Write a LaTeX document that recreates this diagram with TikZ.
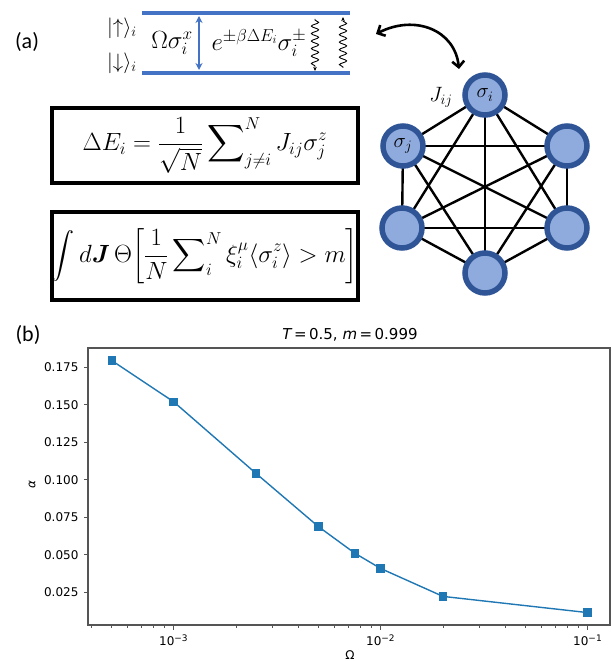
\documentclass[tikz,border=0pt]{standalone}
\usepackage{amsmath,amssymb}
\usepackage{fontspec}
\newfontfamily\calib{Carlito}
\newfontfamily\djv{DejaVu Sans}
\usetikzlibrary{arrows.meta,decorations.pathmorphing,backgrounds}
\definecolor{lvl}{HTML}{4472C4}
\definecolor{nodeb}{HTML}{2F5597}
\definecolor{nodef}{HTML}{8FAADC}
\definecolor{mpl}{HTML}{1F77B4}
\definecolor{spine}{HTML}{555555}
\tikzset{
  spin/.style={circle, minimum size=40pt, inner sep=0pt, line width=5.5pt, draw=nodeb, fill=nodef},
  edge/.style={line width=2.4pt, black},
  level/.style={line width=4pt, lvl},
  eqbox/.style={draw=black, line width=3.5pt, minimum width=306pt, inner sep=0pt},
  panel/.style={font=\calib\fontsize{22}{24}\selectfont},
  ticklab/.style={font=\djv\fontsize{12}{14}\selectfont},
  mk/.style={rectangle, fill=mpl, minimum size=8.6pt, inner sep=0pt},
  wavy/.style={line width=0.9pt, decorate, decoration={snake, amplitude=3.6pt, segment length=7.5pt, pre length=1pt, post length=4pt}},
}
\begin{document}
\begin{tikzpicture}[x=1pt,y=-1pt]
\useasboundingbox (0,0) rectangle (611,661);

% ---------- panel (a) ----------
\node[panel] (la) at (27,42) {(a)};

\coordinate (up1) at (142,13);
\coordinate (up2) at (350,13);
\coordinate (dn1) at (142,73);
\coordinate (dn2) at (350,73);
\draw[level] (up1) -- (up2);
\draw[level] (dn1) -- (dn2);

\node (kup) at (122,28) {\fontsize{21}{23}\selectfont $|{\uparrow}\rangle_i$};
\node (kdn) at (122,63) {\fontsize{21}{23}\selectfont $|{\downarrow}\rangle_i$};
\node (omx) at (172,43) {\fontsize{25}{27}\selectfont $\Omega\sigma_i^x$};
\node (exx) at (259,43) {\fontsize{25}{27}\selectfont $e^{\pm\beta\Delta E_i}\sigma_i^{\pm}$};

\coordinate (da1) at (199,16);
\coordinate (da2) at (199,70);
\draw[lvl, line width=2pt, {Stealth[length=7pt,width=7pt]}-{Stealth[length=7pt,width=7pt]}] (da1) -- (da2);

\coordinate (w1a) at (315,19);
\coordinate (w1b) at (315,71);
\coordinate (w2a) at (343,68);
\coordinate (w2b) at (343,17);
\draw[wavy, -{Stealth[length=4pt,width=3.5pt]}] (w1a) -- (w1b);
\draw[wavy, -{Stealth[length=4pt,width=3.5pt]}] (w2a) -- (w2b);

% ---------- spin graph ----------
\node[spin] (n1) at (485,95) {\fontsize{21}{23}\selectfont $\sigma_i$};
\node[spin] (n2) at (403,146) {\fontsize{21}{23}\selectfont $\sigma_j$};
\node[spin] (n3) at (567,146) {};
\node[spin] (n4) at (402,228) {};
\node[spin] (n5) at (567,228) {};
\node[spin] (n6) at (485,273) {};
\begin{pgfonlayer}{background}
\foreach \a/\b in {n1/n2,n1/n3,n1/n4,n1/n5,n1/n6,n2/n3,n2/n4,n2/n5,n2/n6,n3/n4,n3/n5,n3/n6,n4/n5,n4/n6,n5/n6}
  \draw[edge] (\a.center) -- (\b.center);
\end{pgfonlayer}
\node (jij) at (441,97) {\fontsize{21}{23}\selectfont $J_{ij}$};

\coordinate (ca) at (376,34);
\coordinate (cb) at (459,69);
\draw[line width=2.6pt, {Straight Barb[length=6pt,width=12pt]}-{Straight Barb[length=6pt,width=12pt]}]
  (ca) .. controls (415,14) and (455,30) .. (cb);

% ---------- equation boxes ----------
\node[eqbox, minimum height=75pt] (box1) at (205,145.5)
  {\fontsize{26}{28}\selectfont $\displaystyle \Delta E_i = \frac{1}{\sqrt{N}}\sum\nolimits_{j\neq i}^{N} J_{ij}\sigma_j^z$};
\node[eqbox, minimum height=88pt] (box2) at (205,256)
  {\fontsize{23}{25}\selectfont $\displaystyle \int d\boldsymbol{J}\,\Theta\biggl[\frac{1}{N}\sum\nolimits_{i}^{N}\xi_i^{\mu}\langle\sigma_i^z\rangle > m\biggr]$};

% ---------- panel (b) ----------
\node[panel] (lb) at (28,335) {(b)};
\node[font=\djv\fontsize{15}{17}\selectfont] (title) at (350,335) {{\itshape T}\,=\,0.5, {\itshape m}\,=\,0.999};

\coordinate (fr1) at (88,348);
\coordinate (fr2) at (610,625);

% y ticks
\foreach \v/\y in {0.175/367.3,0.150/404.8,0.125/442.3,0.100/479.8,0.075/517.3,0.050/554.8,0.025/592.3}{
  \draw[spine, line width=0.9pt] (84,\y) -- (88,\y);
  \node[ticklab, anchor=east] at (82,\y) {\v};
}
% x major ticks
\foreach \x/\e in {173.7/3,380.7/2,587.7/1}{
  \draw[spine, line width=0.9pt] (\x,625) -- (\x,629.5);
  \node[ticklab] at (\x,640) {10\textsuperscript{\fontsize{9}{10}\selectfont −\e}};
}
% x minor ticks
\foreach \m in {4,...,9}{
  \pgfmathsetmacro{\xx}{173.7+207*(log10(\m)-1)}
  \draw[spine, line width=0.7pt] (\xx,625) -- (\xx,627.5);
}
\foreach \m in {2,...,9}{
  \pgfmathsetmacro{\xa}{173.7+207*log10(\m)}
  \pgfmathsetmacro{\xb}{380.7+207*log10(\m)}
  \draw[spine, line width=0.7pt] (\xa,625) -- (\xa,627.5);
  \draw[spine, line width=0.7pt] (\xb,625) -- (\xb,627.5);
}
\node[ticklab] (xlab) at (350,655) {Ω};
\node[ticklab, rotate=90] (ylab) at (32,485) {\itshape α};

% data
\coordinate (q1) at (112,360.7);
\coordinate (q2) at (173.7,401.8);
\coordinate (q3) at (256.1,473.5);
\coordinate (q4) at (318.4,526.6);
\coordinate (q5) at (354.8,553.2);
\coordinate (q6) at (380.7,568.5);
\coordinate (q7) at (443.0,596.4);
\coordinate (q8) at (587.7,612.6);
\draw[mpl, line width=1.4pt, line join=round] (q1) -- (q2) -- (q3) -- (q4) -- (q5) -- (q6) -- (q7) -- (q8);
\foreach \q in {1,...,8}
  \node[mk] (m\q) at (q\q) {};

\draw[spine, line width=1.3pt] (fr1) rectangle (fr2);
\end{tikzpicture}
\end{document}
